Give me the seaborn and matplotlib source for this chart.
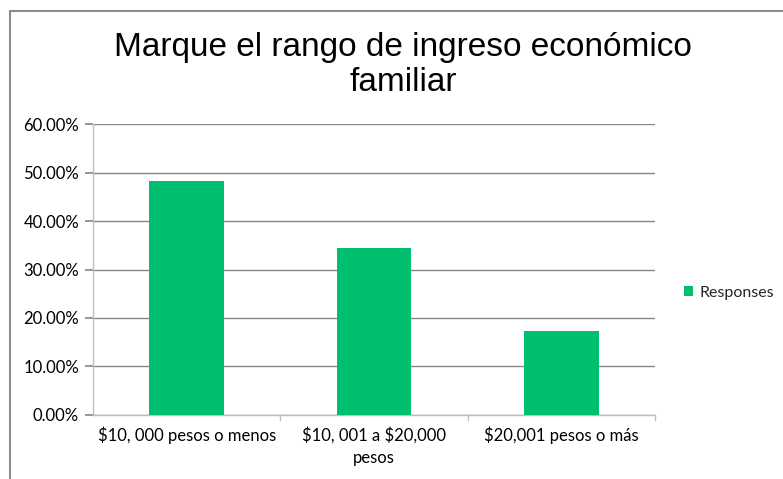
import matplotlib
matplotlib.use("Agg")
import matplotlib.pyplot as plt
import seaborn as sns
import pandas as pd
from matplotlib.patches import Rectangle
from matplotlib.ticker import MultipleLocator, FuncFormatter

categories = ["$10, 000 pesos o menos", "$10, 001 a $20,000\npesos", "$20,001 pesos o más"]
values = [48.28, 34.48, 17.24]
series_name = "Responses"
title = "Marque el rango de ingreso económico\nfamiliar"

df = pd.DataFrame({"cat": categories, "val": values, "series": series_name})

sns.set_theme(style="white")
plt.rcParams["font.family"] = ["Lato", "DejaVu Sans"]

fig = plt.figure(figsize=(7.83, 4.79), dpi=100)
ax = fig.add_axes([93 / 783, 1 - 414.5 / 479, (655 - 93) / 783, (414.5 - 124.5) / 479])

green = "#00BF6F"
sns.barplot(data=df, x="cat", y="val", hue="series", palette=[green], width=0.4,
            ax=ax, saturation=1, edgecolor="none", zorder=3)

ax.set_ylim(0, 60)
ax.set_xlim(-0.5, 2.5)
ax.yaxis.set_major_locator(MultipleLocator(10))
ax.yaxis.set_major_formatter(FuncFormatter(lambda v, p: f"{v:.2f}%"))
ax.grid(axis="y", color="#888888", linewidth=1, zorder=0)
ax.set_axisbelow(True)
for s in ["top", "right"]:
    ax.spines[s].set_visible(False)
for s in ["left", "bottom"]:
    ax.spines[s].set_color("#BFBFBF")
    ax.spines[s].set_linewidth(1)
ax.set_xlabel("")
ax.set_ylabel("")
ax.tick_params(axis="y", length=6, color="#888888", labelsize=12, labelcolor="#000000", pad=4, left=True)
ax.tick_params(axis="x", length=0, labelsize=12, labelcolor="#000000", pad=9)
ax.set_xticks(range(len(categories)))
ax.set_xticklabels(categories, linespacing=1.45)
for lbl in ax.get_xticklabels():
    lbl.set_parse_math(False)
# category boundary ticks
for xb in [0.5, 1.5, 2.5]:
    ax.plot([xb, xb], [0, -1.1], color="#BFBFBF", lw=1, clip_on=False, zorder=4)

fig.text(403 / 783, 1 - 65 / 479, title, fontsize=24, family=["Liberation Sans", "DejaVu Sans"],
         color="#000000", ha="center", va="center", linespacing=1.15)

leg = ax.legend(loc="center left", bbox_to_anchor=(1.04, 0.42), frameon=False,
                fontsize=11.5, handlelength=0.6, handleheight=0.6, handletextpad=0.4,
                borderaxespad=0)

fig.patches.append(Rectangle((9.5 / 783, -0.2), 2, 1 - 10.5 / 479 + 0.2,
                             transform=fig.transFigure, fill=False,
                             edgecolor="#8C8C8C", linewidth=1.5))

fig.savefig("out.png", dpi=100)
